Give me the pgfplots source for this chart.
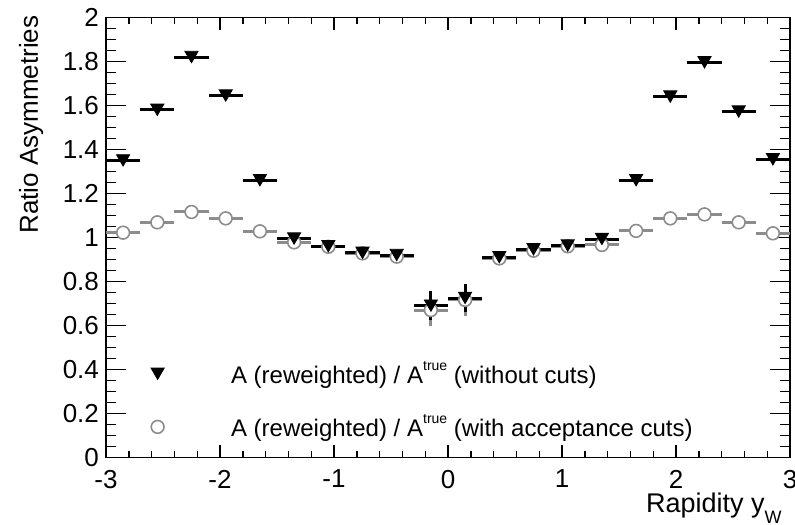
\documentclass[border=0pt]{standalone}
\usepackage{fontspec}
\setmainfont{Liberation Sans}
\usepackage{pgfplots}
\usepackage{pgfplotstable}
\pgfplotsset{compat=1.18}
\definecolor{rgrey}{gray}{0.55}

% bin centre, half width, ratio (no cuts), error, ratio (acceptance cuts), error
\pgfplotstableread{
x ex tri etri circ ecirc
-2.85 0.15 1.350 0.003 1.022 0.003
-2.55 0.15 1.580 0.003 1.069 0.003
-2.25 0.15 1.820 0.003 1.116 0.003
-1.95 0.15 1.645 0.003 1.087 0.003
-1.65 0.15 1.260 0.003 1.028 0.003
-1.35 0.15 0.995 0.003 0.978 0.003
-1.05 0.15 0.960 0.003 0.958 0.003
-0.75 0.15 0.930 0.003 0.928 0.003
-0.45 0.15 0.920 0.003 0.913 0.003
-0.15 0.15 0.690 0.065 0.670 0.072
0.15 0.15 0.725 0.065 0.716 0.072
0.45 0.15 0.910 0.003 0.905 0.003
0.75 0.15 0.946 0.003 0.940 0.003
1.05 0.15 0.963 0.003 0.960 0.003
1.35 0.15 0.993 0.003 0.966 0.003
1.65 0.15 1.260 0.003 1.030 0.003
1.95 0.15 1.640 0.003 1.087 0.003
2.25 0.15 1.796 0.003 1.105 0.003
2.55 0.15 1.572 0.003 1.069 0.003
2.85 0.15 1.355 0.003 1.019 0.003
}\data

\begin{document}
\begin{tikzpicture}
\begin{axis}[
  at={(0,0)}, anchor=south west,
  scale only axis, width=342pt, height=220pt,
  xmin=-3, xmax=3, ymin=0, ymax=2,
  xtick={-3,-2,-1,0,1,2,3},
  ytick={0,0.2,0.4,0.6,0.8,1,1.2,1.4,1.6,1.8,2},
  minor x tick num=4, minor y tick num=3,
  major tick length=10pt, minor tick length=5pt,
  xtick style={/pgfplots/major tick length=6.5pt, /pgfplots/minor tick length=3.5pt},
  tick style={line width=0.7pt, black},
  axis line style={line width=0.7pt},
  tick label style={font=\fontsize{13}{15}\selectfont},
  xticklabel style={yshift=-4pt, inner sep=2pt},
  /pgf/number format/assume math mode=true,
  reverse legend,
  legend cell align=left,
  legend style={draw=none, fill=none, font=\fontsize{12}{14}\selectfont,
    at={(rel axis cs:0.048,0.022)}, anchor=south west, row sep=10pt},
  legend image code/.code={\path (-6pt,-6pt) (34.5pt,6pt); \draw[#1] plot coordinates {(0pt,0pt)};},
]
\addplot[rgrey, only marks, mark=*, mark size=3.2pt,
  mark options={fill=white, draw=rgrey, line width=0.8pt},
  error bars/.cd, x dir=both, x explicit, y dir=both, y explicit,
  error mark=none, error bar style={line width=1.5pt, rgrey}]
  table[x=x, y=circ, x error=ex, y error=ecirc]{\data};
\addlegendentry{A (reweighted) / A\raisebox{6.5pt}{\fontsize{7}{7}\selectfont true} (with acceptance cuts)}
\addplot[black, only marks, mark=triangle*, mark size=3.8pt,
  mark options={yshift=1pt, rotate=180, fill=black, draw=black},
  error bars/.cd, x dir=both, x explicit, y dir=both, y explicit,
  error mark=none, error bar style={line width=1.5pt, black}]
  table[x=x, y=tri, x error=ex, y error=etri]{\data};
\addlegendentry{A (reweighted) / A\raisebox{6.5pt}{\fontsize{7}{7}\selectfont true} (without cuts)}
\end{axis}
\node[rotate=90, anchor=base east, font=\fontsize{13}{15}\selectfont] at (-34pt,224.5pt) {Ratio Asymmetries};
\node[anchor=base east, inner sep=1pt, font=\fontsize{13.5}{15}\selectfont] at (339pt,-27.4pt) {Rapidity y\raisebox{-5.5pt}{\fontsize{9}{9}\selectfont W}};
\pgfresetboundingbox
\path[use as bounding box] (-53pt,-33.5pt) rectangle (344.5pt,228.75pt);
\end{tikzpicture}
\end{document}
